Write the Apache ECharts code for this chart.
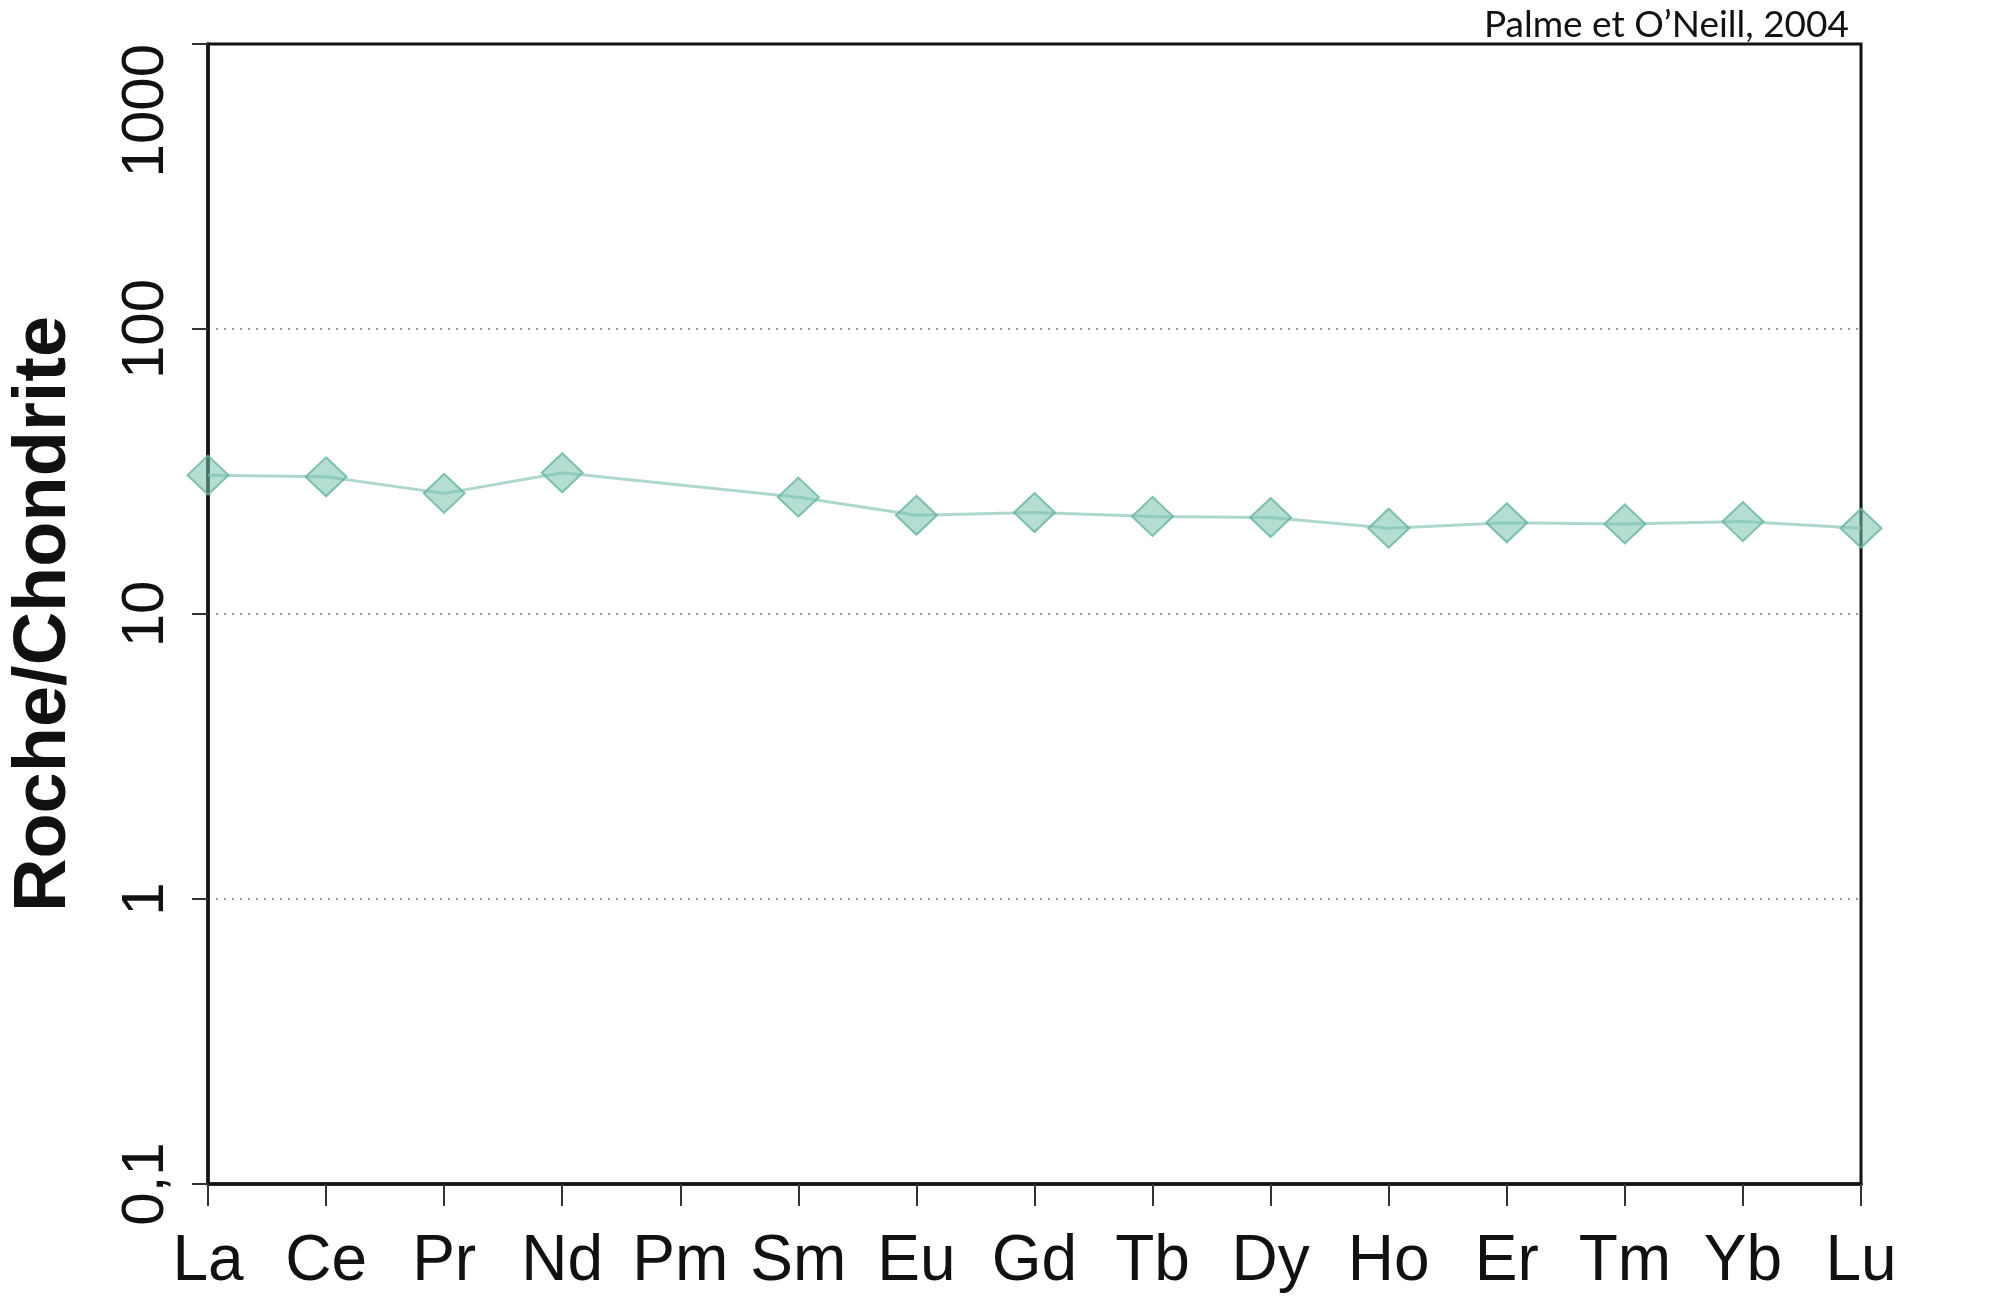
<!DOCTYPE html>
<html>
<head>
<meta charset="utf-8">
<script src="https://cdn.jsdelivr.net/npm/echarts@6/dist/echarts.min.js"></script>
<style>html,body{margin:0;padding:0;background:#fff}#c{width:2000px;height:1302px}</style>
</head>
<body>
<div id="c"></div>
<script>
var elements = ['La','Ce','Pr','Nd','Pm','Sm','Eu','Gd','Tb','Dy','Ho','Er','Tm','Yb','Lu'];
var values = [30.7, 30.3, 26.5, 31.3, null, 25.7, 22.2, 22.7, 22.0, 21.8, 20.0, 20.9, 20.7, 21.1, 20.0];
var yTickLabels = {0.1:'0,1', 1:'1', 10:'10', 100:'100', 1000:'1000'};
var sourceText = 'Palme et O\u2019Neill, 2004';
var yName = 'Roche/Chondrite';

var chart = echarts.init(document.getElementById('c'), null, {renderer:'canvas'});
chart.setOption({
  animation:false,
  backgroundColor:'#fff',
  title:{
    text: sourceText, right:146, top:2,
    textStyle:{fontFamily:'Lato', fontWeight:'normal', fontSize:37, color:'#111'}
  },
  grid:{left:207, right:139, top:44, bottom:118, show:true, borderColor:'#111', borderWidth:3, backgroundColor:'transparent'},
  xAxis:{
    type:'category', data:elements, boundaryGap:false,
    axisLine:{lineStyle:{color:'#111', width:3.5}},
    axisTick:{show:true, inside:false, length:22, alignWithLabel:true, lineStyle:{color:'#333', width:2}},
    axisLabel:{fontFamily:'Liberation Sans, Arial', fontSize:64, color:'#111', margin:46, interval:0},
    splitLine:{show:false}
  },
  yAxis:{
    type:'log', logBase:10, min:0.1, max:1000,
    name: yName, nameLocation:'middle', nameGap:126,
    nameTextStyle:{fontFamily:'Liberation Sans, Arial', fontWeight:'bold', fontSize:74, color:'#111'},
    axisLine:{show:true, lineStyle:{color:'#111', width:3.5}},
    axisTick:{show:true, inside:false, length:16, lineStyle:{color:'#333', width:2}},
    axisLabel:{fontFamily:'Liberation Sans, Arial', fontSize:60, color:'#111', rotate:90, margin:32,
      alignMaxLabel:'right',
      formatter:function(v){ var k = Math.round(v*10)/10; return yTickLabels[k] !== undefined ? yTickLabels[k] : ''; }},
    splitLine:{show:true, showMinLine:false, showMaxLine:false, lineStyle:{color:'#777', width:1.5, type:[2,6]}}
  },
  series:[{
    type:'line', data:values, connectNulls:true,
    symbol:'diamond', symbolSize:[41,39],
    lineStyle:{color:'rgba(130,195,180,0.65)', width:3},
    itemStyle:{color:'rgba(120,195,175,0.55)', borderColor:'rgba(100,180,160,0.8)', borderWidth:2}
  }]
});
</script>
</body>
</html>
